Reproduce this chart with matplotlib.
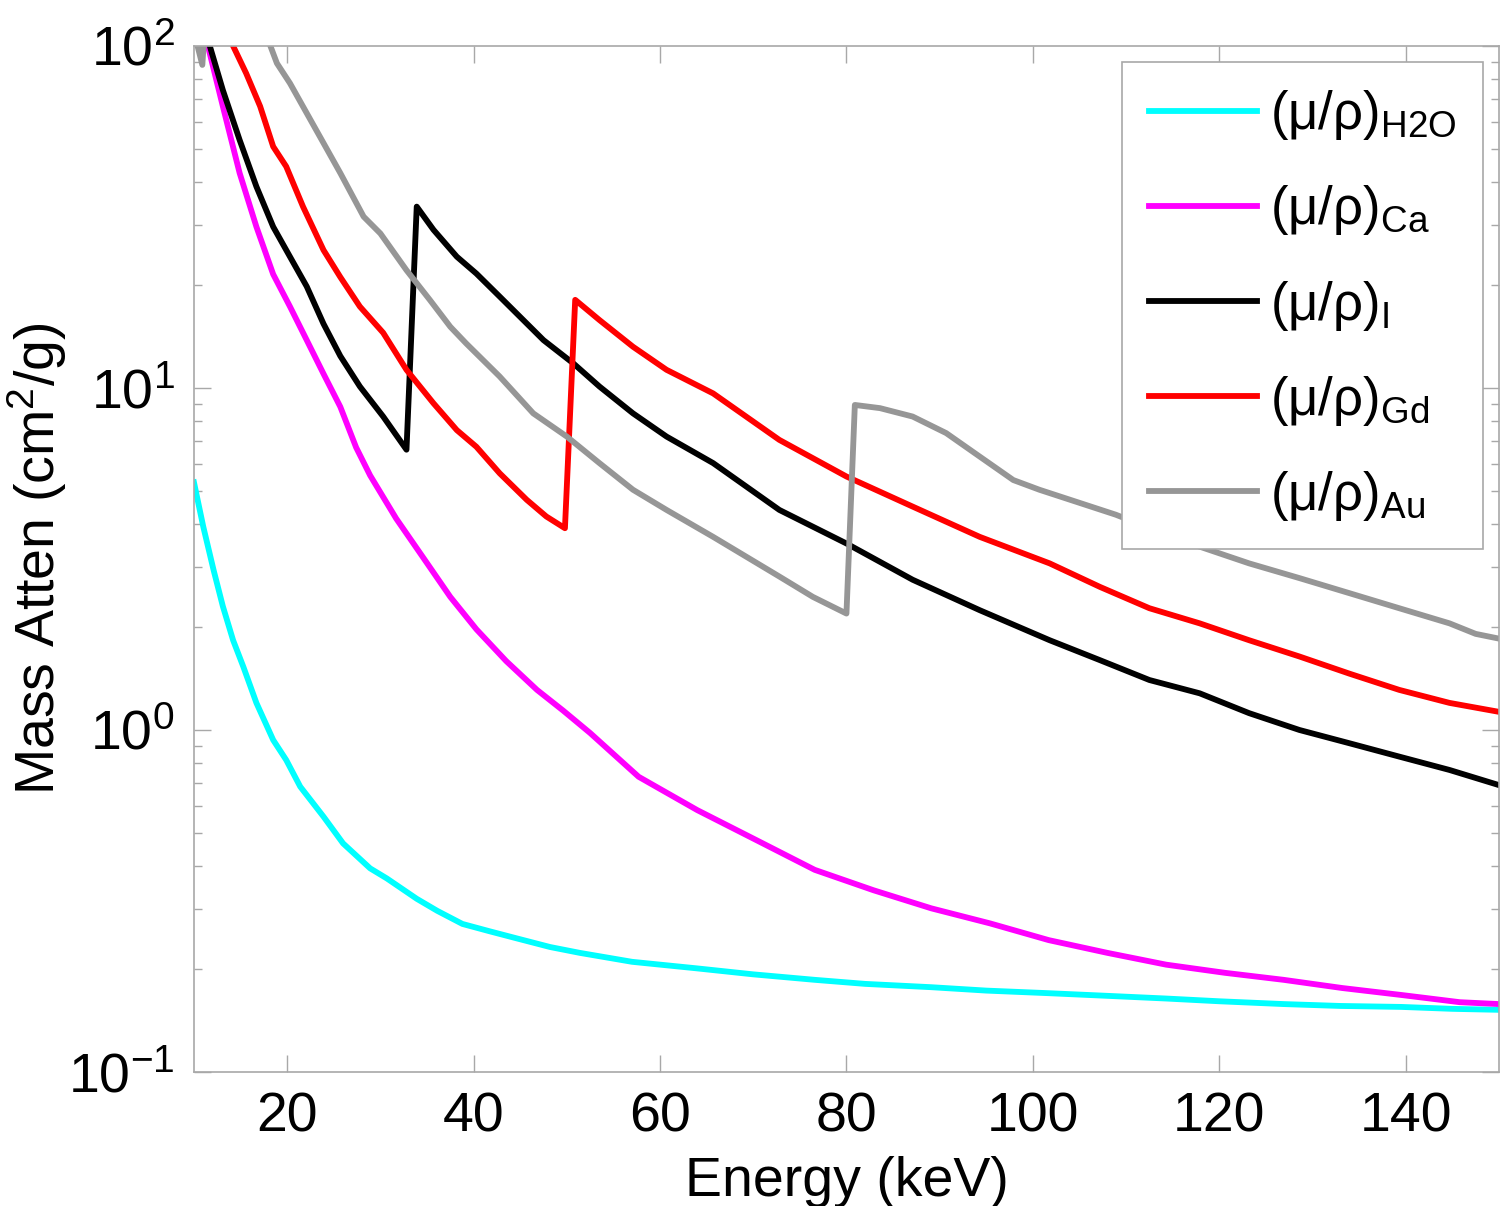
import matplotlib
matplotlib.use('Agg')
import matplotlib.pyplot as plt
from matplotlib.ticker import LogLocator, FixedLocator, NullFormatter

plt.rcParams['font.family'] = ['Liberation Sans', 'DejaVu Sans']
plt.rcParams['mathtext.fontset'] = 'custom'
plt.rcParams['mathtext.rm'] = 'Liberation Sans'
plt.rcParams['mathtext.it'] = 'Liberation Sans:italic'
plt.rcParams['axes.unicode_minus'] = False

# mass attenuation (keV, cm^2/g)
e_h2o = [10.0, 11.0, 12.1, 13.1, 14.2, 15.3, 16.7, 18.5, 19.9, 21.4, 23.9, 26.0, 28.9, 30.7,
         33.9, 36.1, 38.8, 41.7, 44.6, 48.2, 51.4, 57.0, 63.9, 70.0, 76.6, 82.0, 89.1, 95.0,
         101.7, 108.0, 114.3, 120.0, 126.9, 133.0, 139.5, 145.0, 150.0]
mu_h2o = [5.3, 3.93, 2.94, 2.30, 1.83, 1.53, 1.20, 0.935, 0.817, 0.683, 0.558, 0.466, 0.394,
          0.368, 0.321, 0.296, 0.271, 0.258, 0.246, 0.232, 0.223, 0.210, 0.201, 0.193, 0.186,
          0.181, 0.177, 0.173, 0.170, 0.167, 0.164, 0.161, 0.158, 0.156, 0.155, 0.153, 0.152]

e_ca = [10.0, 11.5, 13.1, 14.9, 16.7, 18.5, 20.3, 22.1, 23.9, 25.7, 27.4, 28.9, 31.7, 34.6,
        37.5, 40.3, 43.5, 46.8, 49.6, 52.5, 57.7, 64.0, 70.3, 76.6, 82.9, 89.1, 95.4, 101.7,
        108.0, 114.3, 120.6, 126.9, 133.2, 139.5, 145.8, 150.0]
mu_ca = [140, 100, 66.6, 42.5, 29.6, 21.5, 17.3, 13.8, 11.0, 8.81, 6.7, 5.55, 4.15, 3.19,
         2.45, 1.97, 1.59, 1.31, 1.14, 0.98, 0.73, 0.583, 0.477, 0.390, 0.340, 0.301, 0.272,
         0.243, 0.223, 0.206, 0.195, 0.186, 0.176, 0.168, 0.160, 0.158]

e_i = [10.0, 11.7, 13.1, 14.9, 16.7, 18.5, 20.3, 22.1, 23.9, 25.7, 27.8, 30.3, 32.8, 33.9,
       35.7, 38.2, 40.3, 42.8, 47.5, 50.7, 53.5, 57.1, 60.7, 65.7, 72.8, 80.0, 87.1, 94.3,
       101.8, 107.2, 112.5, 117.9, 123.2, 128.6, 134.0, 139.3, 144.7, 150.0]
mu_i = [140, 100, 74.3, 53.1, 38.8, 29.6, 24.2, 19.8, 15.4, 12.4, 10.1, 8.25, 6.6, 33.9,
        29.0, 24.2, 21.6, 18.5, 13.8, 11.8, 10.1, 8.43, 7.21, 6.03, 4.40, 3.51, 2.75, 2.24,
        1.83, 1.60, 1.40, 1.28, 1.12, 1.0, 0.914, 0.836, 0.764, 0.69]

e_gd = [10.0, 14.2, 15.6, 17.1, 18.5, 19.9, 21.7, 23.9, 25.7, 27.8, 30.3, 32.8, 35.7, 38.2,
        40.3, 42.8, 45.7, 47.8, 49.8, 50.9, 53.5, 57.1, 60.7, 65.7, 72.8, 80.0, 87.1, 94.3,
        101.8, 107.2, 112.5, 117.9, 123.2, 128.6, 134.0, 139.3, 144.7, 150.0]
mu_gd = [220, 100, 83.2, 66.6, 50.8, 44.4, 33.9, 25.3, 21.1, 17.3, 14.5, 11.3, 9.02, 7.53,
         6.73, 5.63, 4.71, 4.21, 3.89, 18.1, 15.8, 13.2, 11.3, 9.64, 7.05, 5.51, 4.50, 3.67,
         3.07, 2.62, 2.27, 2.05, 1.83, 1.64, 1.46, 1.31, 1.20, 1.13]

e_au = [10.0, 10.9, 11.3, 14.0, 18.2, 18.9, 20.3, 22.1, 23.9, 25.7, 28.2, 30.0, 32.8, 35.3,
        37.5, 39.2, 42.8, 46.4, 50.0, 53.5, 57.1, 60.7, 65.7, 72.8, 76.4, 80.0, 80.9, 83.6,
        87.1, 90.7, 94.3, 97.9, 100.7, 108.9, 115.7, 123.2, 128.6, 134.0, 139.3, 144.7,
        147.5, 150.0]
mu_au = [110, 88, 130, 180, 100, 89, 77.8, 63.6, 52.0, 42.5, 31.7, 28.3, 22.1, 18.1,
         15.1, 13.5, 10.8, 8.43, 7.21, 6.03, 5.04, 4.40, 3.67, 2.81, 2.45, 2.19, 8.92, 8.73,
         8.25, 7.38, 6.30, 5.38, 5.04, 4.26, 3.60, 3.07, 2.78, 2.51, 2.27, 2.05, 1.91, 1.85]

series = [
    (e_h2o, mu_h2o, '#00ffff', 'H2O'),
    (e_ca, mu_ca, '#ff00ff', 'Ca'),
    (e_i, mu_i, '#000000', 'I'),
    (e_gd, mu_gd, '#ff0000', 'Gd'),
    (e_au, mu_au, '#969696', 'Au'),
]

fig = plt.figure(figsize=(15, 12.06), dpi=100)
ax = fig.add_axes([0.1293, 0.1111, 0.8700, 0.8508])

for e, mu, col, name in series:
    ax.plot(e, mu, color=col, lw=4.2, solid_joinstyle='round',
            label='(μ/ρ)$_{\\mathregular{%s}}$' % name)

ax.set_yscale('log')
ax.set_xlim(10, 150)
ax.set_ylim(0.1, 100)
ax.xaxis.set_major_locator(FixedLocator([20, 40, 60, 80, 100, 120, 140]))
ax.yaxis.set_major_locator(LogLocator(base=10, numticks=10))
ax.yaxis.set_minor_locator(LogLocator(base=10, subs=range(2, 10), numticks=10))
ax.yaxis.set_minor_formatter(NullFormatter())

spine_col = '#a8a8a8'
for s in ax.spines.values():
    s.set_color(spine_col)
    s.set_linewidth(1.2)
ax.tick_params(which='both', direction='in', top=True, right=True, color=spine_col,
               labelsize=40, labelcolor='black')
ax.tick_params(which='major', length=12, width=1.0, pad=14)
ax.tick_params(which='minor', length=6, width=1.0)

ax.set_xlabel('Energy (keV)', fontsize=40)
ax.set_ylabel('Mass Atten (cm$^2$/g)', fontsize=40)
ax.xaxis.set_label_coords(0.5, -0.082)
ax.yaxis.set_label_coords(-0.096, 0.5)

leg = ax.legend(loc='upper right', fontsize=38, frameon=True, fancybox=False,
                handlelength=2.05, handletextpad=0.25, labelspacing=0.78,
                borderpad=0.5, borderaxespad=0.3, framealpha=1)
leg.get_frame().set_edgecolor(spine_col)
leg.get_frame().set_linewidth(1.2)

fig.savefig('out.png', dpi=100)
